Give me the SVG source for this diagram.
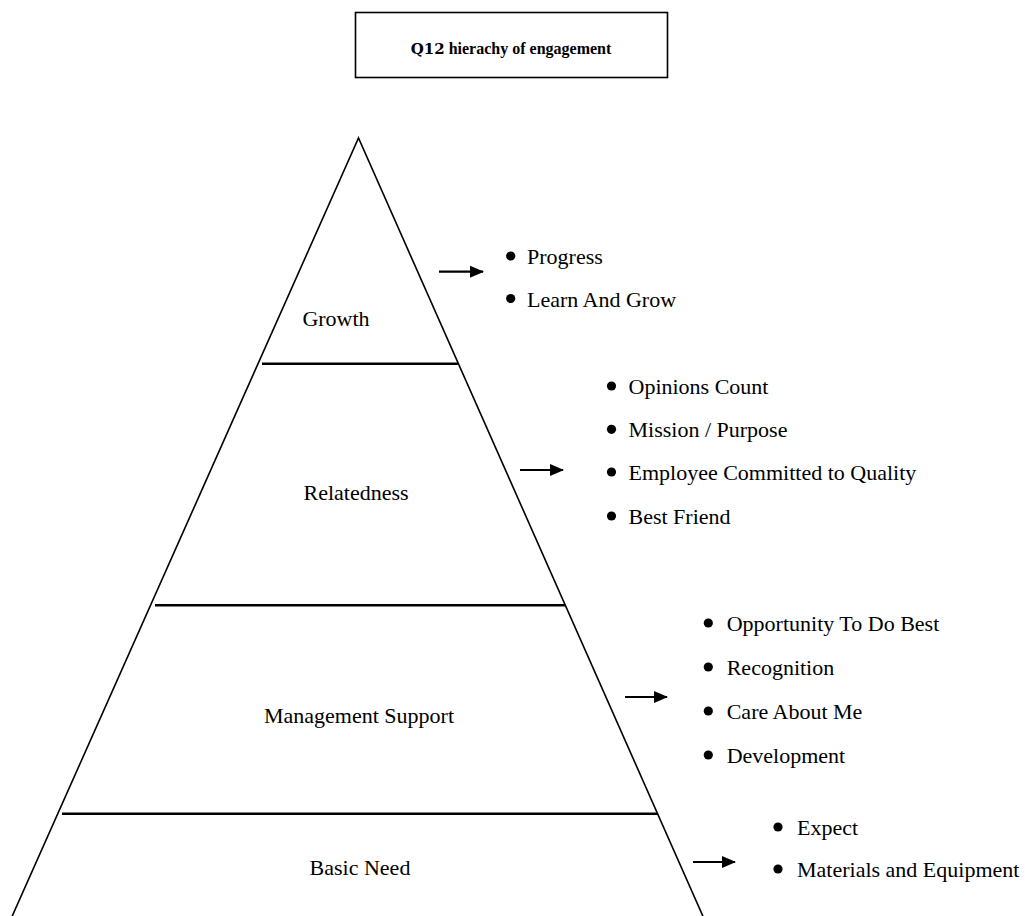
<svg xmlns="http://www.w3.org/2000/svg" width="1025" height="916" viewBox="0 0 1025 916">
  <style>
    .t { font-family: "Liberation Serif", "Times New Roman", serif; font-size: 22px; fill: #000; }
    .lbl { text-anchor: middle; }
    .title { font-family: "Liberation Serif", "Times New Roman", serif; font-size: 16px; font-weight: bold; text-anchor: middle; }
    .num { font-family: "DejaVu Serif", "Liberation Serif", serif; font-size: 15px; }
    .edge { fill: none; stroke: #000; stroke-width: 1.6; }
    .tier { stroke: #000; stroke-width: 2.4; }
    .arrow { stroke: #000; stroke-width: 2.2; marker-end: url(#head); }
  </style>
  <defs>
    <marker id="head" markerWidth="14" markerHeight="12" refX="13" refY="6" orient="auto" markerUnits="userSpaceOnUse">
      <path d="M0,0 L14,6 L0,12 Z" fill="#000"/>
    </marker>
  </defs>
  <rect width="1025" height="916" fill="#fff"/>

  <g id="title">
    <rect x="355.5" y="12.5" width="312" height="65" fill="#fff" stroke="#000" stroke-width="1.6"/>
    <text class="title" x="511" y="54"><tspan class="num">Q12</tspan> hierachy of engagement</text>
  </g>

  <!-- pyramid outline -->
  <g id="pyramid">
    <polyline class="edge" points="-2,948 358.5,138 717,948"/>
  </g>

  <g id="tier-growth">
    <line class="tier" x1="262" y1="363.7" x2="458" y2="363.7"/>
    <text class="t lbl" x="336" y="326">Growth</text>
  </g>
  <g id="tier-relatedness">
    <line class="tier" x1="155" y1="605.3" x2="565" y2="605.3"/>
    <text class="t lbl" x="356" y="500">Relatedness</text>
  </g>
  <g id="tier-management">
    <line class="tier" x1="62" y1="813.7" x2="658" y2="813.7"/>
    <text class="t lbl" x="359" y="723">Management Support</text>
  </g>
  <g id="tier-basic">
    <text class="t lbl" x="360" y="875">Basic Need</text>
  </g>

  <!-- connectors from tiers to their item lists -->
  <g id="connectors">
    <line class="arrow" x1="439" y1="271.7" x2="483" y2="271.7"/>
    <line class="arrow" x1="520" y1="470" x2="563" y2="470"/>
    <line class="arrow" x1="625" y1="697" x2="667" y2="697"/>
    <line class="arrow" x1="693" y1="862" x2="735" y2="862"/>
  </g>

  <g id="list-growth">
    <circle cx="510.7" cy="256" r="4.6"/>
    <text class="t" x="527" y="264">Progress</text>
    <circle cx="510.7" cy="298.5" r="4.6"/>
    <text class="t" x="527" y="306.5">Learn And Grow</text>
  </g>
  <g id="list-relatedness">
    <circle cx="611.5" cy="386" r="4.6"/>
    <text class="t" x="628.5" y="394">Opinions Count</text>
    <circle cx="611.5" cy="429.3" r="4.6"/>
    <text class="t" x="628.5" y="437.3">Mission / Purpose</text>
    <circle cx="611.5" cy="472" r="4.6"/>
    <text class="t" x="628.5" y="480">Employee Committed to Quality</text>
    <circle cx="611.5" cy="516" r="4.6"/>
    <text class="t" x="628.5" y="524">Best Friend</text>
  </g>
  <g id="list-management">
    <circle cx="708.3" cy="623" r="4.6"/>
    <text class="t" x="726.7" y="631">Opportunity To Do Best</text>
    <circle cx="708.3" cy="667" r="4.6"/>
    <text class="t" x="726.7" y="675">Recognition</text>
    <circle cx="708.3" cy="711" r="4.6"/>
    <text class="t" x="726.7" y="719">Care About Me</text>
    <circle cx="708.3" cy="755" r="4.6"/>
    <text class="t" x="726.7" y="763">Development</text>
  </g>
  <g id="list-basic">
    <circle cx="778" cy="827" r="4.6"/>
    <text class="t" x="797" y="834.5">Expect</text>
    <circle cx="778" cy="869" r="4.6"/>
    <text class="t" x="797" y="876.5">Materials and Equipment</text>
  </g>
</svg>
